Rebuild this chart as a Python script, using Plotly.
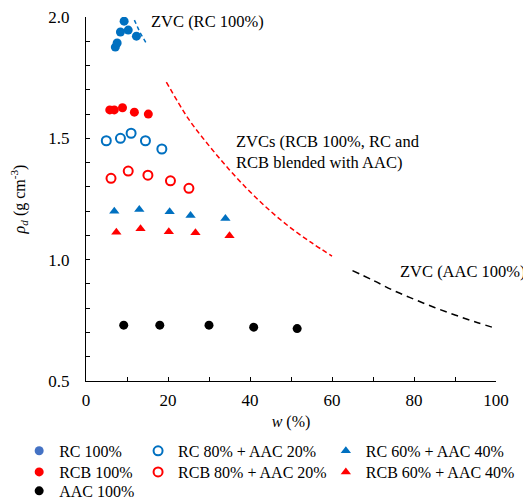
import plotly.graph_objects as go

# ---- data ----
rc100_w = [7.15, 7.6, 8.4, 9.3, 10.3, 12.3]
rc100_rho = [1.876, 1.893, 1.938, 1.983, 1.946, 1.921]

rcb100_w = [5.8, 6.9, 8.9, 11.8, 15.2]
rcb100_rho = [1.617, 1.617, 1.626, 1.608, 1.600]

rc80_w = [4.95, 8.4, 11.0, 14.5, 18.5]
rc80_rho = [1.490, 1.500, 1.521, 1.490, 1.456]

rcb80_w = [6.1, 10.3, 15.1, 20.6, 25.1]
rcb80_rho = [1.335, 1.365, 1.348, 1.325, 1.294]

rc60_w = [6.9, 13.0, 20.4, 25.5, 34.0]
rc60_rho = [1.200, 1.207, 1.197, 1.182, 1.170]

rcb60_w = [7.4, 13.3, 20.2, 26.7, 35.0]
rcb60_rho = [1.113, 1.127, 1.115, 1.111, 1.099]

aac100_w = [9.2, 18.0, 30.0, 40.9, 51.5]
aac100_rho = [0.730, 0.730, 0.730, 0.722, 0.716]

zvc_rc_w = [11.8, 13.2, 14.8]
zvc_rc_rho = [1.987, 1.935, 1.889]

zvc_blend_w = [19.6, 25, 30, 35, 40, 45, 50, 55, 60]
zvc_blend_rho = [1.732, 1.58, 1.47, 1.37, 1.28, 1.20, 1.13, 1.07, 1.015]

zvc_aac_w = [65, 70, 75, 80, 85, 90, 95, 100]
zvc_aac_rho = [0.955, 0.915, 0.873, 0.837, 0.803, 0.772, 0.743, 0.717]

BLUE = "#0070C0"
RED = "#FF0000"
FONT = "Liberation Serif, Times New Roman, serif"

fig = go.Figure()

# ZVC lines
fig.add_trace(go.Scatter(x=zvc_rc_w, y=zvc_rc_rho, mode="lines", showlegend=False,
                         line=dict(color=BLUE, width=1.5, dash="4px,3px")))
fig.add_trace(go.Scatter(x=zvc_blend_w, y=zvc_blend_rho, mode="lines", showlegend=False,
                         line=dict(color=RED, width=1.5, dash="5px,3px"), line_shape="spline"))
fig.add_trace(go.Scatter(x=zvc_aac_w, y=zvc_aac_rho, mode="lines", showlegend=False,
                         line=dict(color="black", width=1.5, dash="7px,5px"), line_shape="spline"))

# markers (each legend entry in its own legend box so rows/columns match the reference)
fig.add_trace(go.Scatter(x=rc100_w, y=rc100_rho, mode="markers", showlegend=False,
                         marker=dict(symbol="circle", size=9, color=BLUE)))
fig.add_trace(go.Scatter(x=[None], y=[None], mode="markers", name="RC 100%", legend="legend",
                         marker=dict(symbol="circle", size=9, color="#4472C4")))
fig.add_trace(go.Scatter(x=rc80_w, y=rc80_rho, mode="markers", name="RC 80% + AAC 20%", legend="legend2",
                         marker=dict(symbol="circle-open", size=9, color=BLUE, line=dict(width=2))))
fig.add_trace(go.Scatter(x=rc60_w, y=rc60_rho, mode="markers", name="RC 60% + AAC 40%", legend="legend3",
                         marker=dict(symbol="triangle-up", size=9, color=BLUE)))
fig.add_trace(go.Scatter(x=rcb100_w, y=rcb100_rho, mode="markers", name="RCB 100%", legend="legend4",
                         marker=dict(symbol="circle", size=9, color=RED)))
fig.add_trace(go.Scatter(x=rcb80_w, y=rcb80_rho, mode="markers", name="RCB 80% + AAC 20%", legend="legend5",
                         marker=dict(symbol="circle-open", size=9, color=RED, line=dict(width=2))))
fig.add_trace(go.Scatter(x=rcb60_w, y=rcb60_rho, mode="markers", name="RCB 60% + AAC 40%", legend="legend6",
                         marker=dict(symbol="triangle-up", size=9, color=RED)))
fig.add_trace(go.Scatter(x=aac100_w, y=aac100_rho, mode="markers", name="AAC 100%", legend="legend7",
                         marker=dict(symbol="circle", size=9, color="black")))

leg_common = dict(orientation="v", yanchor="middle", xanchor="left",
                  bgcolor="rgba(0,0,0,0)", font=dict(family=FONT, size=16, color="black"))
col_x = [-0.163, 0.127, 0.585]
row_y = [-0.192, -0.25, -0.302]

fig.update_layout(
    width=523, height=494,
    margin=dict(l=78, r=35, t=9, b=121, autoexpand=False),
    paper_bgcolor="white", plot_bgcolor="white",
    font=dict(family=FONT, size=16, color="black"),
    showlegend=True,
    legend=dict(**leg_common, x=col_x[0], y=row_y[0]),
    legend2=dict(**leg_common, x=col_x[1], y=row_y[0]),
    legend3=dict(**leg_common, x=col_x[2], y=row_y[0]),
    legend4=dict(**leg_common, x=col_x[0], y=row_y[1]),
    legend5=dict(**leg_common, x=col_x[1], y=row_y[1]),
    legend6=dict(**leg_common, x=col_x[2], y=row_y[1]),
    legend7=dict(**leg_common, x=col_x[0], y=row_y[2]),
    xaxis=dict(range=[0, 100], dtick=20, showline=True, linecolor="black", linewidth=1,
               ticks="inside", ticklen=4, tickcolor="black", showgrid=False, zeroline=False,
               tickfont=dict(size=17), ticklabeloverflow="allow",
               minor=dict(dtick=10, ticks="inside", ticklen=4, tickcolor="black"),
               title=dict(text="<i>w</i> (%)", standoff=6, font=dict(size=16)),
               ticklabelstandoff=4, automargin=False),
    yaxis=dict(range=[0.5, 2.0], dtick=0.5, tickformat=".1f", showline=True, linecolor="black", linewidth=1,
               ticks="inside", ticklen=4, tickcolor="black", showgrid=False, zeroline=False,
               tickfont=dict(size=17), ticklabeloverflow="allow",
               minor=dict(dtick=0.1, ticks="inside", ticklen=4, tickcolor="black"),
               title=dict(text="<i>ρ<sub>d</sub></i> (g cm<sup>-3</sup>)", standoff=20, font=dict(size=16)),
               ticklabelstandoff=12, automargin=False),
)

fig.add_annotation(x=15.4, y=1.98, text="ZVC (RC 100%)", showarrow=False, xanchor="left", yanchor="middle",
                   font=dict(family=FONT, size=16.5, color="black"))
fig.add_annotation(x=36.0, y=1.442, text="ZVCs (RCB 100%, RC and<br>RCB blended with AAC)", showarrow=False,
                   xanchor="left", yanchor="middle", align="left",
                   font=dict(family=FONT, size=16.5, color="black"))
fig.add_annotation(x=76.0, y=0.95, text="ZVC (AAC 100%)", showarrow=False, xanchor="left", yanchor="middle",
                   font=dict(family=FONT, size=16.5, color="black"))

fig.write_html("out.html")
